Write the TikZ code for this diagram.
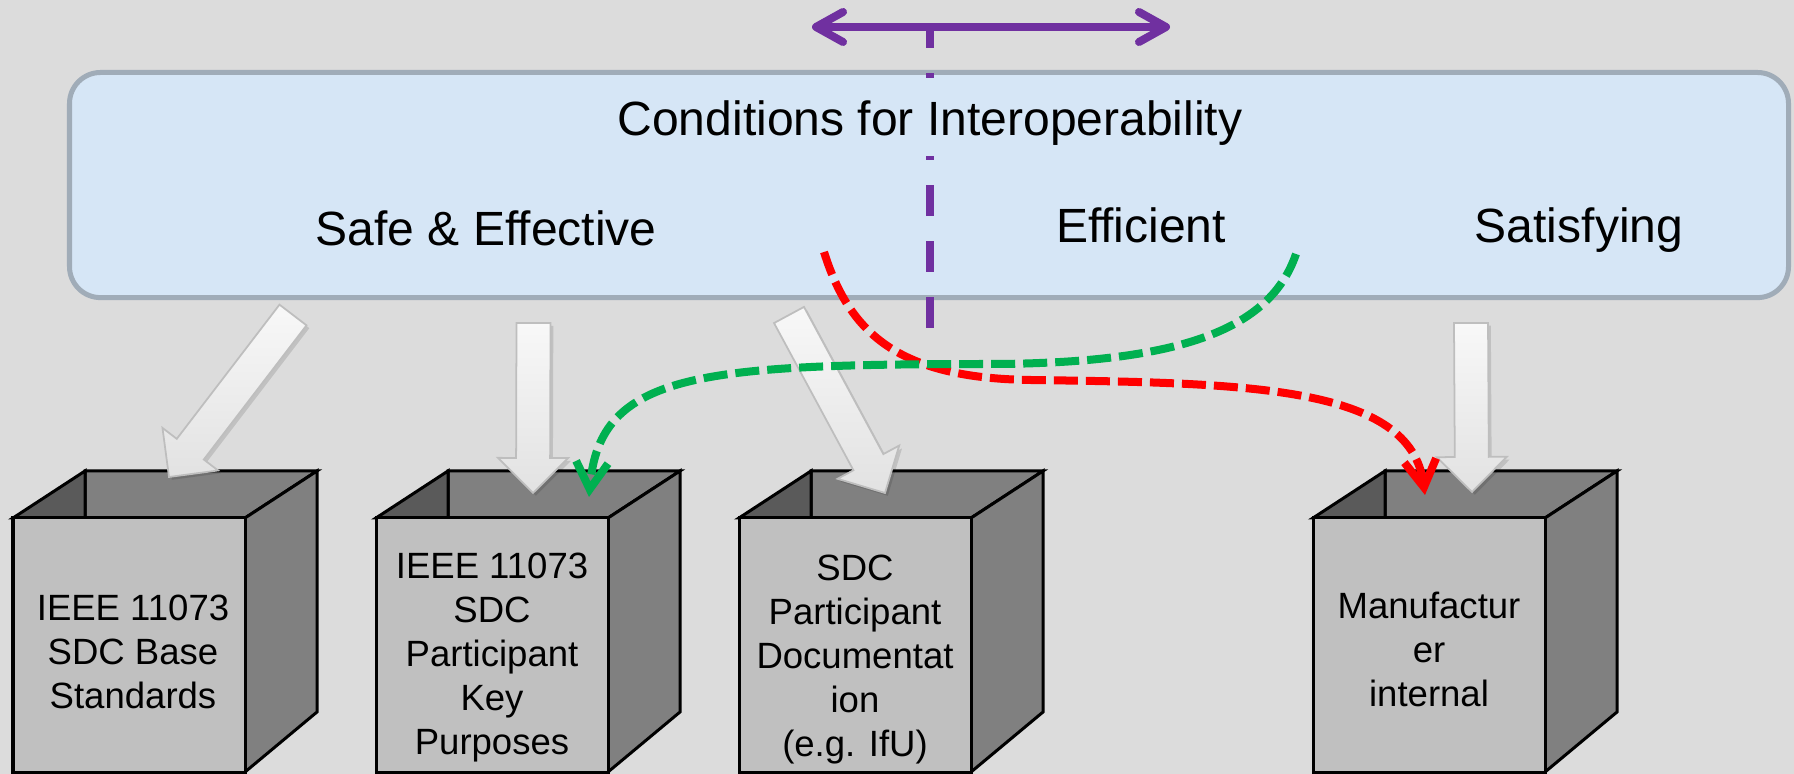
\documentclass[tikz,border=0pt]{standalone}
\usepackage{fontspec}
\setmainfont{Liberation Sans}
\usetikzlibrary{arrows.meta,calc}

\definecolor{bg}{HTML}{DCDCDC}
\definecolor{panelfill}{HTML}{D6E6F6}
\definecolor{panelline}{HTML}{A0ACB8}
\definecolor{violet}{HTML}{7030A0}
\definecolor{flowred}{HTML}{FF0000}
\definecolor{flowgreen}{HTML}{00B050}
\definecolor{cubefront}{HTML}{C0C0C0}
\definecolor{cubeside}{HTML}{808080}
\definecolor{cubeinner}{HTML}{5A5A5A}
\definecolor{arrowtop}{HTML}{F8F8F8}
\definecolor{arrowbot}{HTML}{E2E2E2}
\definecolor{arrowline}{HTML}{BEBEBE}

\tikzset{
  panel/.style={draw=panelline, fill=panelfill, line width=0.05cm,
    rounded corners=0.31cm, inner sep=0pt, outer sep=0pt},
  paneltext/.style={font=\fontsize{13.66pt}{16pt}\selectfont, inner sep=0pt},
  cubeedge/.style={draw=black, line width=0.03cm, line join=miter},
  cubeface/.style={draw=black, fill=cubefront, line width=0.03cm,
    minimum width=2.32cm, minimum height=2.54cm, inner sep=0pt, outer sep=0pt},
  cubelabel/.style={font=\fontsize{10.39pt}{12.52pt}\selectfont,
    align=center, inner sep=0pt},
  fatarrow/.style={draw=arrowline, line width=0.5pt, line join=miter,
    top color=arrowtop, bottom color=arrowbot,
    preaction={fill=black, opacity=0.12,
      transform canvas={xshift=0.8pt, yshift=-0.8pt}}},
  axisline/.style={draw=violet, line width=0.08cm},
  flow/.style={line width=0.08cm, dash pattern=on 0.24cm off 0.08cm,
    -{Straight Barb[length=0.27cm, width=0.32cm]}},
}

% open box: back walls, side face, then the labelled front face
\newcommand\cubebox[5]{% #1 name, #2 front-left x, #3 label centre x, #4 label top y, #5 label
  \begin{scope}[shift={(#2,518)}]
    \path[cubeedge, fill=cubeside] (72,-47) -- (304,-47) -- (232,0) -- (72,0) -- cycle;
    \path[cubeedge, fill=cubeinner] (0,0) -- (72,-47) -- (72,0) -- cycle;
    \path[cubeedge, fill=cubeside] (232,0) -- (304,-47) -- (304,194) -- (232,254) -- cycle;
    \node[cubeface, anchor=north west] (#1) at (0,0) {};
    \node[cubelabel, anchor=north] (#1-label) at ({#3-#2},{#4-518}) {#5};
  \end{scope}}

% broad block arrow from #1 (middle of its tail) to #2 (its point)
\newcommand\blockarrow[2]{%
  \path[fatarrow]
    ($(#1)!0.17cm!90:(#2)$)
    -- ($(#2)!0.35cm!(#1)!0.17cm!-90:(#1)$)
    -- ($(#2)!0.35cm!(#1)!0.35cm!-90:(#1)$)
    -- (#2)
    -- ($(#2)!0.35cm!(#1)!0.35cm!90:(#1)$)
    -- ($(#2)!0.35cm!(#1)!0.17cm!90:(#1)$)
    -- ($(#1)!0.17cm!-90:(#2)$)
    -- cycle;}

\begin{document}
\begin{tikzpicture}[x=0.01cm, y=-0.01cm]
  \useasboundingbox (0,0) rectangle (1794,774);
  \fill[bg] (0,0) rectangle (1794,774);

  % the conditions panel
  \node[panel, anchor=north west, minimum width=17.18cm, minimum height=2.25cm]
    (panel) at (69.5,72.5) {};

  % dividing axis between the two groups
  \coordinate (vtop) at (930,24);
  \coordinate (vbot) at (930,328);
  \draw[axisline, dash pattern=on 0.31cm off 0.25cm, dash phase=0.07cm] (vtop) -- (vbot);

  \node[paneltext, anchor=base, fill=panelfill, inner xsep=0.08cm,
        text height=0.58cm, text depth=0.2cm] (title) at (930,136)
    {Conditions for Interoperability};
  \node[paneltext, anchor=base] (safe) at (486,246) {Safe \& Effective};
  \node[paneltext, anchor=base] (eff) at (1141,243) {Efficient};
  \node[paneltext, anchor=base] (sat) at (1579,243) {Satisfying};

  % double-headed axis on top
  \coordinate (hleft) at (812,27);
  \coordinate (hright) at (1170,27);
  \draw[axisline, {Straight Barb[round, length=0.27cm, width=0.3cm]}-{Straight Barb[round, length=0.27cm, width=0.3cm]}]
    (hleft) -- (hright);

  % the four boxes
  \cubebox{base}{13}{133}{594}{IEEE 11073\\SDC Base\\Standards}
  \cubebox{keyp}{376}{492}{552}{IEEE 11073\\SDC\\Participant\\Key\\Purposes}
  \cubebox{docu}{739}{855}{554}{SDC\\Participant\\Documentat\\ion\\(e.g. IfU)}
  \cubebox{manu}{1313}{1429}{591}{Manufactur\\er\\internal}

  % block arrows from the panel into the boxes
  \coordinate (a1s) at (293,315);   \coordinate (a1t) at (169,477);
  \coordinate (a2s) at (533.5,323); \coordinate (a2t) at (533,493);
  \coordinate (a3s) at (789,315);   \coordinate (a3t) at (885,493);
  \coordinate (a4s) at (1471,323);  \coordinate (a4t) at (1472,492);
  \blockarrow{a1s}{a1t}
  \blockarrow{a2s}{a2t}
  \blockarrow{a3s}{a3t}
  \blockarrow{a4s}{a4t}

  % crossing flows
  \coordinate (rs) at (824,252);  \coordinate (rt) at (1425,495);
  \coordinate (gs) at (1296,254); \coordinate (gt) at (589,497);
  \draw[flow, flowred] (rs) .. controls (850,335) and (900,378) .. (1030,380)
    .. controls (1250,383) and (1410,386) .. (rt);
  \draw[flow, flowgreen] (gs) .. controls (1270,330) and (1180,362) .. (1000,364)
    .. controls (700,364) and (600,372) .. (gt);
\end{tikzpicture}
\end{document}
